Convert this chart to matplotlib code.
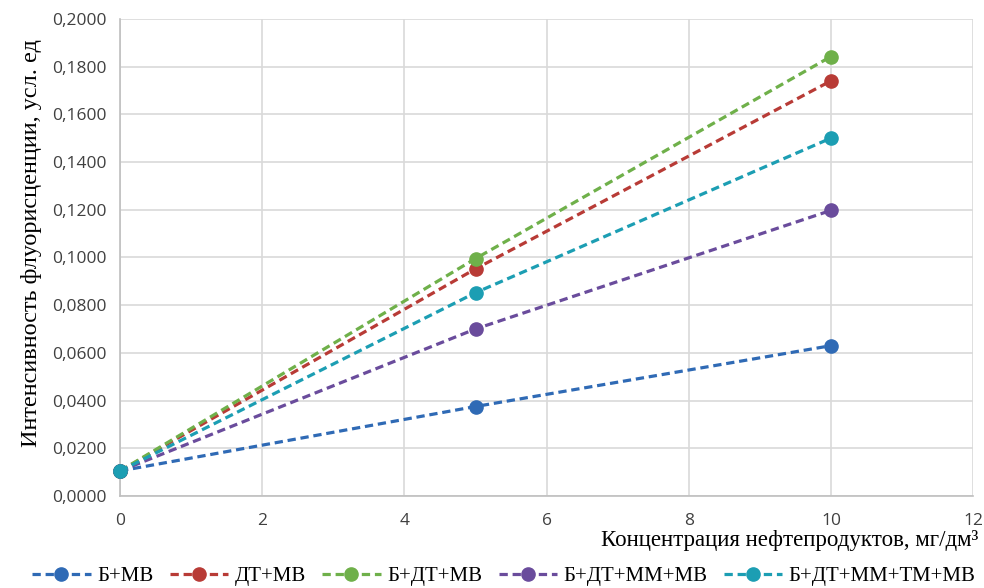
import matplotlib
matplotlib.use("Agg")
import matplotlib.pyplot as plt
from matplotlib.ticker import FuncFormatter, MultipleLocator

x = [0, 5, 10]
series_names = ["Б+МВ", "ДТ+МВ", "Б+ДТ+МВ", "Б+ДТ+ММ+МВ", "Б+ДТ+ММ+ТМ+МВ"]
b_mv = [0.0105, 0.0375, 0.0630]
dt_mv = [0.0105, 0.0952, 0.1740]
b_dt_mv = [0.0105, 0.0995, 0.1842]
b_dt_mm_mv = [0.0105, 0.0700, 0.1197]
b_dt_mm_tm_mv = [0.0105, 0.0852, 0.1500]
colors = ["#2F6AB5", "#B83B36", "#6FB04A", "#6A4C9C", "#1C9EB3"]

fig = plt.figure(figsize=(9.84, 5.88), dpi=100)
ax = fig.add_axes([0.122, 0.1565, 0.867, 0.8115])

serif = "Liberation Serif"
tickfont = "Open Sans"

for ys, name, c in zip([b_mv, dt_mv, b_dt_mv, b_dt_mm_mv, b_dt_mm_tm_mv], series_names, colors):
    ax.plot(x, ys, color=c, lw=2.3, ls=(0, (2.6, 1.5)), marker="o", ms=9.5,
            label=name, clip_on=False, zorder=3)

ax.set_xlim(0, 12)
ax.set_ylim(0, 0.2)
ax.xaxis.set_major_locator(MultipleLocator(2))
ax.yaxis.set_major_locator(MultipleLocator(0.02))
ax.yaxis.set_major_formatter(FuncFormatter(lambda v, p: f"{v:.4f}".replace(".", ",")))
ax.grid(True, color="#D9D9D9", lw=1.2)
ax.set_axisbelow(True)
for s in ["top", "right"]:
    ax.spines[s].set_visible(False)
for s in ["left", "bottom"]:
    ax.spines[s].set_color("#BFBFBF")
    ax.spines[s].set_linewidth(1.2)
ax.tick_params(length=0, labelsize=12.5, labelcolor="#404040")
ax.tick_params(axis="y", pad=10)
ax.tick_params(axis="x", pad=12)
for lab in ax.get_xticklabels() + ax.get_yticklabels():
    lab.set_fontfamily(tickfont)

ax.set_ylabel("Интенсивность флуорисценции, усл. ед", fontfamily=serif, fontsize=17.5)
ax.yaxis.set_label_coords(-0.092, 0.53)
fig.text(0.994, 0.080, "Концентрация нефтепродуктов, мг/дм³", fontfamily=serif,
         fontsize=16.5, ha="right", va="center")

leg = fig.legend(loc="center", bbox_to_anchor=(0.512, 0.02), ncol=5, frameon=False,
                 prop={"family": serif, "size": 15}, handlelength=2.8, columnspacing=0.8,
                 handletextpad=0.3, borderpad=0, borderaxespad=0)

fig.savefig("out.png", dpi=100)
